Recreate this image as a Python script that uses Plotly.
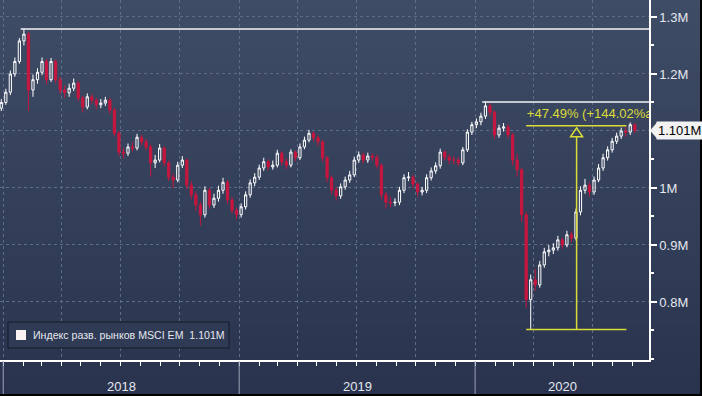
import plotly.graph_objects as go
import pandas as pd

# ---------------- data (values in millions) ----------------
weeks = pd.date_range("2017-12-29", periods=141, freq="7D")
first_open = 1.140
close = [1.150, 1.168, 1.200, 1.222, 1.258, 1.270, 1.172, 1.190, 1.203, 1.222,
         1.190, 1.222, 1.190, 1.172, 1.167, 1.175, 1.184, 1.158, 1.142, 1.160,
         1.154, 1.146, 1.149, 1.154, 1.137, 1.096, 1.063, 1.061, 1.072, 1.070,
         1.089, 1.081, 1.072, 1.044, 1.049, 1.070, 1.044, 1.019, 1.014, 1.040,
         1.049, 1.005, 0.988, 0.970, 0.953, 0.996, 0.970, 0.982, 0.996, 1.010,
         0.979, 0.961, 0.953, 0.967, 0.988, 1.009, 1.019, 1.035, 1.046, 1.037,
         1.040, 1.061, 1.046, 1.040, 1.063, 1.053, 1.072, 1.084, 1.096, 1.088,
         1.081, 1.053, 1.018, 0.996, 0.986, 1.002, 1.014, 1.023, 1.049, 1.058,
         1.049, 1.056, 1.054, 1.040, 0.988, 0.975, 0.974, 0.975, 0.996, 1.018,
         1.019, 1.007, 0.993, 0.996, 1.018, 1.030, 1.039, 1.063, 1.054, 1.049,
         1.049, 1.044, 1.067, 1.098, 1.111, 1.116, 1.126, 1.144, 1.133, 1.093,
         1.105, 1.107, 1.093, 1.049, 1.032, 0.953, 0.804, 0.839, 0.830, 0.865,
         0.888, 0.891, 0.895, 0.909, 0.900, 0.918, 0.912, 0.958, 0.996, 1.005,
         0.993, 1.014, 1.035, 1.053, 1.067, 1.082, 1.091, 1.100, 1.098, 1.111,
         1.101]
high = [1.156, 1.174, 1.206, 1.229, 1.263, 1.279, 1.274, 1.199, 1.210, 1.229,
        1.226, 1.228, 1.225, 1.195, 1.180, 1.183, 1.192, 1.188, 1.162, 1.166,
        1.165, 1.158, 1.156, 1.160, 1.158, 1.140, 1.100, 1.070, 1.078, 1.080,
        1.095, 1.093, 1.086, 1.076, 1.058, 1.077, 1.073, 1.048, 1.025, 1.046,
        1.056, 1.052, 1.012, 0.994, 0.976, 1.003, 1.000, 0.990, 1.004, 1.018,
        1.014, 0.984, 0.966, 0.973, 0.994, 1.015, 1.026, 1.041, 1.053, 1.050,
        1.048, 1.067, 1.064, 1.052, 1.068, 1.066, 1.078, 1.090, 1.102, 1.099,
        1.092, 1.084, 1.056, 1.022, 1.002, 1.008, 1.020, 1.030, 1.055, 1.064,
        1.062, 1.062, 1.061, 1.058, 1.043, 0.993, 0.984, 0.982, 1.002, 1.024,
        1.028, 1.023, 1.010, 1.002, 1.024, 1.036, 1.045, 1.069, 1.066, 1.059,
        1.056, 1.054, 1.072, 1.103, 1.116, 1.122, 1.132, 1.151, 1.148, 1.136,
        1.111, 1.114, 1.112, 1.096, 1.060, 1.035, 0.958, 0.848, 0.858, 0.872,
        0.895, 0.900, 0.903, 0.916, 0.913, 0.925, 0.924, 0.964, 1.003, 1.016,
        1.010, 1.020, 1.042, 1.060, 1.073, 1.088, 1.097, 1.106, 1.107, 1.115,
        1.113]
low = [1.135, 1.146, 1.163, 1.195, 1.218, 1.250, 1.135, 1.160, 1.183, 1.198,
       1.182, 1.186, 1.184, 1.165, 1.158, 1.160, 1.170, 1.152, 1.133, 1.138,
       1.148, 1.138, 1.140, 1.144, 1.130, 1.090, 1.056, 1.052, 1.056, 1.064,
       1.066, 1.075, 1.066, 1.020, 1.035, 1.045, 1.038, 1.012, 1.000, 1.010,
       1.035, 0.998, 0.980, 0.960, 0.934, 0.948, 0.963, 0.965, 0.976, 0.990,
       0.972, 0.955, 0.945, 0.948, 0.962, 0.983, 1.003, 1.014, 1.030, 1.031,
       1.032, 1.036, 1.040, 1.033, 1.036, 1.047, 1.049, 1.068, 1.080, 1.082,
       1.074, 1.046, 1.010, 0.989, 0.978, 0.981, 0.997, 1.009, 1.019, 1.044,
       1.043, 1.044, 1.048, 1.034, 0.980, 0.964, 0.966, 0.968, 0.970, 0.991,
       1.012, 1.000, 0.985, 0.987, 0.991, 1.013, 1.025, 1.034, 1.048, 1.042,
       1.041, 1.038, 1.040, 1.063, 1.093, 1.105, 1.110, 1.121, 1.126, 1.086,
       1.088, 1.099, 1.087, 1.040, 1.020, 0.940, 0.790, 0.752, 0.820, 0.825,
       0.860, 0.880, 0.884, 0.890, 0.893, 0.896, 0.905, 0.908, 0.952, 0.990,
       0.985, 0.988, 1.010, 1.030, 1.048, 1.062, 1.077, 1.086, 1.090, 1.093,
       1.096]
open_ = [first_open] + close[:-1]

series_name = "Индекс разв. рынков MSCI EM"
last_label = "1.101M"
y_tickvals = [0.8, 0.9, 1.0, 1.1, 1.2, 1.3]
y_ticktext = ["0.8M", "0.9M", "1M", "", "1.2M", "1.3M"]
years = ["2018", "2019", "2020"]
year_starts = ["2018-01-01", "2019-01-01", "2020-01-01"]

meas_low = 0.7519
meas_high = 1.109
meas_start = "2020-03-20"
meas_end = "2020-08-22"
meas_mid = "2020-06-06"
meas_text = "+47.49% (+144.02%ann.)"

# ---------------- layout geometry ----------------
W, H = 702, 396
ML, MR, MT, MB = 0, 53, 0, 36
PW, PH = W - ML - MR, H - MT - MB
X0, X1 = pd.Timestamp("2017-12-27"), pd.Timestamp("2020-09-26")
Y0, Y1 = 0.6982, 1.3298

def px(xp):
    return xp / PW

def py(yp):
    return (PH - yp) / PH

def xfrac(d):
    return (pd.Timestamp(d) - X0) / (X1 - X0)

def ypix(v):
    return PH * (Y1 - v) / (Y1 - Y0)

FONT = "Liberation Sans"
TXT = "#e4e7ee"

fig = go.Figure()

fig.add_trace(go.Candlestick(
    x=weeks, open=open_, high=high, low=low, close=close,
    increasing=dict(line=dict(color="#ffffff", width=1), fillcolor="rgba(0,0,0,0)"),
    decreasing=dict(line=dict(color="#c7163f", width=1), fillcolor="#c7163f"),
    whiskerwidth=0, showlegend=False, hoverinfo="skip",
))

# measurement text (clipped by the plot area like the original)
fig.add_trace(go.Scatter(
    x=[pd.Timestamp(meas_start) + pd.Timedelta(days=1)], y=[meas_high + 11 * (Y1 - Y0) / PH],
    mode="text", text=[meas_text], textposition="middle right",
    textfont=dict(family=FONT, size=13, color="#dcdc38"),
    cliponaxis=True, showlegend=False, hoverinfo="skip",
))

shapes = []
# vertical gradient background (whole figure)
top = (63, 76, 102)
bot = (41, 51, 77)
nb = 44
for i in range(nb):
    t = i / (nb - 1)
    c = tuple(round(top[k] + (bot[k] - top[k]) * t) for k in range(3))
    ya = i * H / nb
    yb = (i + 1) * H / nb + 0.6
    shapes.append(dict(type="rect", xref="paper", yref="paper",
                       x0=px(-1), x1=px(W + 1), y0=py(yb), y1=py(ya),
                       line=dict(width=0), fillcolor="rgb(%d,%d,%d)" % c, layer="below"))

# resistance lines from peaks
hs = pd.Series(high, index=weeks)
pk1 = hs.idxmax()
pk2 = hs["2019-06-01":"2020-03-01"].idxmax()
for d, v in [(pk1, hs[pk1]), (pk2, hs[pk2])]:
    shapes.append(dict(type="line", xref="x", yref="y", x0=d - pd.Timedelta(days=5), x1=X1,
                       y0=v, y1=v, line=dict(color="#f4f4f4", width=1.5)))

# yellow measurement
yel = "#dcdc38"
shapes.append(dict(type="line", xref="x", yref="y", x0=meas_start, x1=meas_end,
                   y0=meas_high, y1=meas_high, line=dict(color=yel, width=1.5)))
shapes.append(dict(type="line", xref="x", yref="y", x0=meas_start, x1=meas_end,
                   y0=meas_low, y1=meas_low, line=dict(color=yel, width=1.5)))
shapes.append(dict(type="line", xref="x", yref="y", x0=meas_mid, x1=meas_mid,
                   y0=meas_low, y1=meas_high - 11 * (Y1 - Y0) / PH,
                   line=dict(color=yel, width=1.5)))
shapes.append(dict(type="path", xref="x", yref="y", xsizemode="pixel", ysizemode="pixel",
                   xanchor=meas_mid, yanchor=meas_high,
                   path="M -6,-11 L 6,-11 L 0,-2 Z", line=dict(color=yel, width=1.5),
                   fillcolor="rgba(0,0,0,0)"))

# year separators below the axis
for d in year_starts:
    shapes.append(dict(type="line", xref="paper", yref="paper", x0=xfrac(d), x1=xfrac(d),
                       y0=py(PH + 1), y1=py(H), line=dict(color="#9aa3b5", width=1)))

# legend box
shapes.append(dict(type="rect", xref="paper", yref="paper", x0=px(8), x1=px(229),
                   y0=py(348), y1=py(322), line=dict(color="#141a28", width=1),
                   fillcolor="#2f3a55"))
shapes.append(dict(type="rect", xref="paper", yref="paper", x0=px(16), x1=px(26),
                   y0=py(340), y1=py(330), line=dict(width=0), fillcolor="#fbf3f1"))

# last-price pointer
lp = ypix(close[-1])
shapes.append(dict(type="path", xref="paper", yref="paper",
                   path="M %f,%f L %f,%f L %f,%f Z" % (px(PW + 1), py(lp), px(PW + 8), py(lp - 8),
                                                     px(PW + 8), py(lp + 8)),
                   line=dict(width=0), fillcolor="#f2f2f2"))

# figure border (right and bottom)
shapes.append(dict(type="rect", xref="paper", yref="paper", x0=px(W - 2), x1=px(W + 2),
                   y0=py(H + 2), y1=py(-2), line=dict(width=0), fillcolor="#000000"))
shapes.append(dict(type="rect", xref="paper", yref="paper", x0=px(-2), x1=px(W + 2),
                   y0=py(H + 2), y1=py(H - 2), line=dict(width=0), fillcolor="#000000"))

annotations = []
for i, yl in enumerate(years):
    a = xfrac(year_starts[i])
    b = xfrac(year_starts[i + 1]) if i + 1 < len(years) else 1.0
    annotations.append(dict(xref="paper", yref="paper", x=(a + b) / 2, y=0, yshift=-26,
                            text=yl, showarrow=False, xanchor="center", yanchor="middle",
                            font=dict(family=FONT, size=13, color=TXT)))
annotations.append(dict(xref="paper", yref="paper", x=px(31), y=py(335),
                        text=series_name + "\u00a0\u00a0" + last_label,
                        showarrow=False, xanchor="left", yanchor="middle",
                        font=dict(family=FONT, size=10.6, color=TXT)))
annotations.append(dict(xref="paper", yref="y", x=px(PW + 7), y=close[-1], text=last_label,
                        showarrow=False, xanchor="left", yanchor="middle", bgcolor="#f2f2f2",
                        borderpad=1, font=dict(family=FONT, size=13, color="#000000")))

grid = "#5d6c88"
fig.update_layout(
    width=W, height=H, autosize=False,
    margin=dict(l=ML, r=MR, t=MT, b=MB, pad=0),
    paper_bgcolor="#2b3550", plot_bgcolor="rgba(0,0,0,0)",
    shapes=shapes, annotations=annotations, showlegend=False,
    xaxis=dict(type="date", range=[X0, X1], rangeslider=dict(visible=False),
               showline=True, linecolor="#ffffff", linewidth=1.5,
               tick0="2018-01-01", dtick="M3", ticks="outside", ticklen=4,
               tickcolor="#ffffff", tickwidth=1, showticklabels=False,
               showgrid=True, gridcolor=grid, griddash="dot", gridwidth=1, zeroline=False,
               minor=dict(dtick="M1", tick0="2018-01-01", ticks="outside", ticklen=4,
                          tickcolor="#ffffff", showgrid=False)),
    yaxis=dict(side="right", range=[Y0, Y1], tickvals=y_tickvals, ticktext=y_ticktext,
               showline=True, linecolor="#ffffff", linewidth=1.5,
               ticks="outside", ticklen=6, tickwidth=2, tickcolor="#ffffff",
               tickfont=dict(family=FONT, size=13, color=TXT),
               showgrid=True, gridcolor=grid, griddash="dot", gridwidth=1, zeroline=False,
               minor=dict(dtick=0.05, tick0=0.7, ticks="outside", ticklen=3,
                          tickcolor="#ffffff", showgrid=False)),
)
fig.write_html("out.html", config={"displayModeBar": False},
               post_script="document.body.style.margin='0';document.body.style.overflow='hidden';")
